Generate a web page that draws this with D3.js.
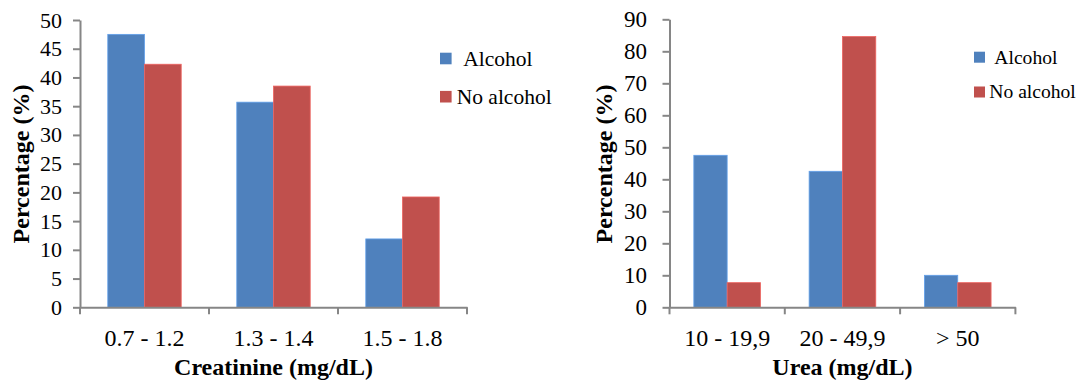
<!DOCTYPE html>
<html>
<head>
<meta charset="utf-8">
<script src="https://cdn.jsdelivr.net/npm/d3@7/dist/d3.min.js"></script>
<style>
  html, body { margin: 0; padding: 0; background: #fff; }
  svg { display: block; }
</style>
</head>
<body>
<svg id="chart" width="1080" height="383"></svg>
<script>
// ---- Data ----
const seriesNames = ["Alcohol", "No alcohol"];
const seriesColors = ["#4F81BD", "#C0504D"];

const creatinineCategories = ["0.7 - 1.2", "1.3 - 1.4", "1.5 - 1.8"];
const creatinineAlcohol = [47.5, 35.7, 11.9];
const creatinineNoAlcohol = [42.3, 38.5, 19.2];
const creatinineTicks = [0, 5, 10, 15, 20, 25, 30, 35, 40, 45, 50];

const ureaCategories = ["10 - 19,9", "20 - 49,9", "> 50"];
const ureaAlcohol = [47.5, 42.5, 10.0];
const ureaNoAlcohol = [7.7, 84.6, 7.7];
const ureaTicks = [0, 10, 20, 30, 40, 50, 60, 70, 80, 90];

const FONT = "'Liberation Serif', 'Times New Roman', Times, serif";
const svg = d3.select("#chart");
const axisColor = "#868686";

function drawPanel(cfg) {
  const g = svg.append("g");
  const x = d3.scaleBand().domain(cfg.categories).range([cfg.x0, cfg.x1]).paddingInner(0).paddingOuter(0);
  const xs = d3.scaleBand().domain(seriesNames).range([0, x.bandwidth()]).paddingInner(0).paddingOuter(cfg.groupPad);
  const y = d3.scaleLinear().domain([0, d3.max(cfg.ticks)]).range([cfg.y0, cfg.y1]);
  const color = d3.scaleOrdinal().domain(seriesNames).range(seriesColors);

  const rows = cfg.categories.map((c, i) => ({ cat: c, vals: [cfg.s1[i], cfg.s2[i]] }));

  // bars
  const grp = g.selectAll("g.grp").data(rows).join("g")
    .attr("transform", d => `translate(${x(d.cat)},0)`);
  grp.selectAll("rect").data(d => d.vals.map((v, k) => ({ name: seriesNames[k], v })))
    .join("rect")
    .attr("x", d => xs(d.name))
    .attr("width", xs.bandwidth())
    .attr("y", d => y(d.v))
    .attr("height", d => y(0) - y(d.v))
    .attr("fill", d => color(d.name))
    .attr("stroke", d => d3.color(color(d.name)).brighter(0.6))
    .attr("stroke-width", 0.8);

  // y axis
  const ya = g.append("g").attr("transform", `translate(${cfg.x0},0)`)
    .call(d3.axisLeft(y).tickValues(cfg.ticks).tickSize(7).tickSizeOuter(0).tickPadding(cfg.yPad).tickFormat(d3.format("d")));
  ya.attr("font-family", null).attr("font-size", null);
  ya.select(".domain").attr("stroke", axisColor).attr("stroke-width", 2);
  ya.selectAll(".tick line").attr("stroke", axisColor).attr("stroke-width", 2);
  ya.selectAll(".tick text").style("font-family", FONT).style("font-size", cfg.yFont + "px").attr("fill", "#000");

  // x axis
  const xa = g.append("g").attr("transform", `translate(0,${cfg.y0})`)
    .call(d3.axisBottom(x).tickSize(0).tickSizeOuter(0).tickPadding(0));
  xa.attr("font-family", null).attr("font-size", null);
  xa.select(".domain").attr("stroke", axisColor).attr("stroke-width", 2);
  xa.selectAll(".tick text").attr("y", 346 - cfg.y0).attr("dy", null)
    .style("font-family", FONT).style("font-size", "24px").attr("fill", "#000");
  const bounds = cfg.categories.map(c => x(c)).concat([x(cfg.categories[cfg.categories.length - 1]) + x.bandwidth()]);
  xa.selectAll("line.bt").data(bounds).join("line").attr("class", "bt")
    .attr("x1", d => d).attr("x2", d => d).attr("y1", 0).attr("y2", 7)
    .attr("stroke", axisColor).attr("stroke-width", 2);

  // titles
  g.append("text").attr("x", (cfg.x0 + cfg.x1) / 2).attr("y", 375)
    .attr("text-anchor", "middle").style("font-family", FONT).style("font-size", "24px").style("font-weight", "bold")
    .text(cfg.xTitle);
  g.append("text").attr("transform", `translate(${cfg.yTitleX},164) rotate(-90)`)
    .attr("text-anchor", "middle").style("font-family", FONT).style("font-size", "24px").style("font-weight", "bold")
    .text("Percentage (%)");

  // legend
  const lg = g.append("g");
  seriesNames.forEach((n, k) => {
    const L = cfg.legend[k];
    lg.append("rect").attr("x", L.sx).attr("y", L.sy).attr("width", L.ss).attr("height", L.ss).attr("fill", color(n));
    lg.append("text").attr("x", L.tx).attr("y", L.ty).style("font-family", FONT).style("font-size", cfg.legendFont + "px").text(n);
  });
}

drawPanel({
  categories: creatinineCategories, s1: creatinineAlcohol, s2: creatinineNoAlcohol, ticks: creatinineTicks,
  x0: 80, x1: 467, y0: 307.3, y1: 20, groupPad: 0.757, yPad: 11, yFont: 22,
  xTitle: "Creatinine (mg/dL)", yTitleX: 29, legendFont: 21.5,
  legend: [
    { sx: 440, sy: 52.7, ss: 11.6, tx: 463.3, ty: 66 },
    { sx: 440, sy: 90.9, ss: 11.6, tx: 456.7, ty: 104.3 }
  ]
});

drawPanel({
  categories: ureaCategories, s1: ureaAlcohol, s2: ureaNoAlcohol, ticks: ureaTicks,
  x0: 669.5, x1: 1015.4, y0: 307.3, y1: 19.3, groupPad: 0.73, yPad: 15.4, yFont: 23,
  xTitle: "Urea (mg/dL)", yTitleX: 612, legendFont: 19.6,
  legend: [
    { sx: 974, sy: 51.7, ss: 11, tx: 994.3, ty: 64 },
    { sx: 974, sy: 86.5, ss: 11, tx: 989.3, ty: 98.3 }
  ]
});
</script>
</body>
</html>
